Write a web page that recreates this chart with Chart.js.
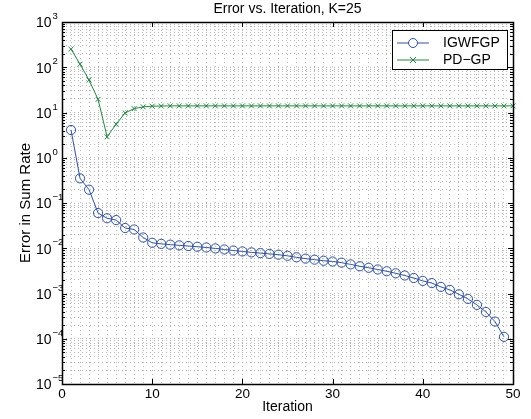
<!DOCTYPE html>
<html>
<head>
<meta charset="utf-8">
<script src="https://cdn.jsdelivr.net/npm/chart.js@4"></script>
<style>
  html, body { margin: 0; padding: 0; background: #fff; }
  #wrap { width: 531px; height: 419px; }
</style>
</head>
<body>
<div id="wrap"><canvas id="grafico" width="531" height="419"></canvas></div>
<script>
// dados
const iteracoes = [1, 2, 3, 4, 5, 6, 7, 8, 9, 10, 11, 12, 13, 14, 15, 16, 17, 18, 19, 20,
  21, 22, 23, 24, 25, 26, 27, 28, 29, 30, 31, 32, 33, 34, 35, 36, 37, 38, 39, 40,
  41, 42, 43, 44, 45, 46, 47, 48, 49, 50];

const erroIGWFGP = [4.1, 0.35, 0.197, 0.060, 0.046, 0.042, 0.028, 0.026, 0.0173, 0.0132,
  0.0125, 0.012, 0.0116, 0.0112, 0.0108, 0.0104, 0.0099, 0.0094, 0.0089, 0.0085,
  0.0081, 0.0078, 0.0075, 0.0072, 0.0068, 0.0063, 0.0059, 0.0056, 0.0053, 0.0051,
  0.0048, 0.0044, 0.0040, 0.0037, 0.0034, 0.0031, 0.0028, 0.0025, 0.0022, 0.0019,
  0.0017, 0.0014, 0.0012, 0.00096, 0.00076, 0.00056, 0.00039, 0.00024, 0.00011];

const erroPDGP = [251, 117, 52, 19.5, 2.9, 5.5, 9.8, 12.2, 13.3, 13.8,
  13.9, 14, 14, 14, 14, 14, 14, 14, 14, 14,
  14, 14, 14, 14, 14, 14, 14, 14, 14, 14,
  14, 14, 14, 14, 14, 14, 14, 14, 14, 14,
  14, 14, 14, 14, 14, 14, 14, 14, 14, 14];

const rotulos = ["IGWFGP", "PD\u2212GP"];
const xTicksMaiores = [0, 10, 20, 30, 40, 50];
const expoentesY = [-5, -4, -3, -2, -1, 0, 1, 2, 3];

const fonte = '"Liberation Sans", Arial, Helvetica, sans-serif';
const azul = "#2d50b4";
const verde = "#1c8a3c";
const corGrade = "#b8b8b8";

// linhas de grade do eixo log (1..9 em cada década)
const gradeY = [];
expoentesY.forEach((e) => {
  for (let m = 1; m <= 9; m++) {
    if (e === 3 && m > 1) break;
    gradeY.push(m * Math.pow(10, e));
  }
});

function pontos(valores) {
  return valores.map((v, i) => ({ x: iteracoes[i], y: v }));
}

// desenha moldura, ticks para dentro, rótulos 10^n e legenda
const molduraMatlab = {
  id: "molduraMatlab",
  afterDraw(chart) {
    const ctx = chart.ctx;
    const area = chart.chartArea;
    const sx = chart.scales.x;
    const sy = chart.scales.y;
    ctx.save();

    // ticks para dentro
    ctx.strokeStyle = "#000";
    ctx.lineWidth = 1;
    ctx.beginPath();
    xTicksMaiores.forEach((v) => {
      const px = Math.round(sx.getPixelForValue(v)) + 0.5;
      ctx.moveTo(px, area.bottom);
      ctx.lineTo(px, area.bottom - 5);
      ctx.moveTo(px, area.top);
      ctx.lineTo(px, area.top + 5);
    });
    gradeY.forEach((v) => {
      const py = Math.round(sy.getPixelForValue(v)) + 0.5;
      const maior = Math.abs(Math.log10(v) - Math.round(Math.log10(v))) < 1e-9;
      const len = maior ? 5 : 3;
      ctx.moveTo(area.left, py);
      ctx.lineTo(area.left + len, py);
      ctx.moveTo(area.right, py);
      ctx.lineTo(area.right - len, py);
    });
    ctx.stroke();

    // caixa do eixo
    ctx.lineWidth = 1.5;
    ctx.strokeRect(Math.round(area.left) + 0.5, Math.round(area.top) + 0.5,
      Math.round(area.right - area.left), Math.round(area.bottom - area.top));

    // rótulos 10^n
    ctx.fillStyle = "#000";
    expoentesY.forEach((e) => {
      const py = sy.getPixelForValue(Math.pow(10, e));
      ctx.font = "14px " + fonte;
      ctx.textAlign = "right";
      ctx.textBaseline = "middle";
      ctx.fillText("10", 51.5, py + 1.5);
      ctx.font = "9.5px " + fonte;
      ctx.textAlign = "left";
      ctx.fillText(String(e).replace("-", "\u2212"), 52.5, py - 5.5);
    });

    // legenda
    const lx = 392, ly = 30, lw = 115, lh = 39;
    ctx.fillStyle = "#fff";
    ctx.fillRect(lx, ly, lw, lh);
    ctx.lineWidth = 1;
    ctx.strokeStyle = "#000";
    ctx.strokeRect(lx + 0.5, ly + 0.5, lw, lh);
    chart.data.datasets.forEach((ds, i) => {
      const y = ly + 13 + i * 17;
      ctx.strokeStyle = ds.borderColor;
      ctx.lineWidth = 1;
      ctx.beginPath();
      ctx.moveTo(397, y);
      ctx.lineTo(429, y);
      ctx.stroke();
      if (ds.pointStyle === "circle") {
        ctx.beginPath();
        ctx.fillStyle = "#fff";
        ctx.arc(413, y, 4.5, 0, Math.PI * 2);
        ctx.fill();
        ctx.stroke();
      } else {
        ctx.beginPath();
        ctx.moveTo(410, y - 3);
        ctx.lineTo(416, y + 3);
        ctx.moveTo(416, y - 3);
        ctx.lineTo(410, y + 3);
        ctx.stroke();
      }
      ctx.fillStyle = "#000";
      ctx.font = "14px " + fonte;
      ctx.textAlign = "left";
      ctx.textBaseline = "middle";
      ctx.fillText(ds.label, 443, y + 0.5);
    });
    ctx.restore();
  },
};

const ctx = document.getElementById("grafico").getContext("2d");

new Chart(ctx, {
  type: "line",
  data: {
    datasets: [
      {
        label: rotulos[0],
        data: pontos(erroIGWFGP),
        borderColor: azul,
        backgroundColor: "rgba(0,0,0,0)",
        borderWidth: 1,
        pointStyle: "circle",
        pointRadius: 4.6,
        pointBorderWidth: 1,
        pointBackgroundColor: "rgba(0,0,0,0)",
        tension: 0,
        clip: 8,
      },
      {
        label: rotulos[1],
        data: pontos(erroPDGP),
        borderColor: verde,
        backgroundColor: "rgba(0,0,0,0)",
        borderWidth: 1,
        pointStyle: "crossRot",
        pointRadius: 3.5,
        pointBorderWidth: 1,
        tension: 0,
        clip: 8,
      },
    ],
  },
  options: {
    responsive: false,
    animation: false,
    events: [],
    layout: { padding: { left: 0, right: 18, top: 0, bottom: 0 } },
    plugins: {
      legend: { display: false },
      tooltip: { enabled: false },
      title: {
        display: true,
        fullSize: false,
        text: "Error vs. Iteration, K=25",
        color: "#000",
        font: { family: fonte, size: 14, weight: "normal" },
        padding: { top: 0.6, bottom: 4.6 },
      },
    },
    scales: {
      x: {
        type: "linear",
        min: 0,
        max: 50,
        afterFit: (s) => { s.height = 35; },
        ticks: {
          stepSize: 1,
          autoSkip: false,
          maxRotation: 0,
          color: "#000",
          padding: 2,
          font: { family: fonte, size: 13.5 },
          callback: (v) => (v % 10 === 0 ? v : ""),
        },
        grid: { color: corGrade, drawTicks: false, lineWidth: 1 },
        border: { display: false, dash: [1, 3] },
        title: {
          display: true,
          text: "Iteration",
          color: "#000",
          font: { family: fonte, size: 14 },
          padding: { top: 0, bottom: 3 },
        },
      },
      y: {
        type: "logarithmic",
        min: 1e-5,
        max: 1e3,
        afterFit: (s) => { s.width = 62; },
        afterBuildTicks: (s) => { s.ticks = gradeY.map((v) => ({ value: v })); },
        ticks: { display: false },
        grid: { color: corGrade, drawTicks: false, lineWidth: 1 },
        border: { display: false, dash: [1, 3] },
        title: {
          display: true,
          text: "Error in Sum Rate",
          color: "#000",
          font: { family: fonte, size: 15 },
          padding: { top: 17, bottom: 0 },
        },
      },
    },
  },
  plugins: [molduraMatlab],
});
</script>
</body>
</html>
